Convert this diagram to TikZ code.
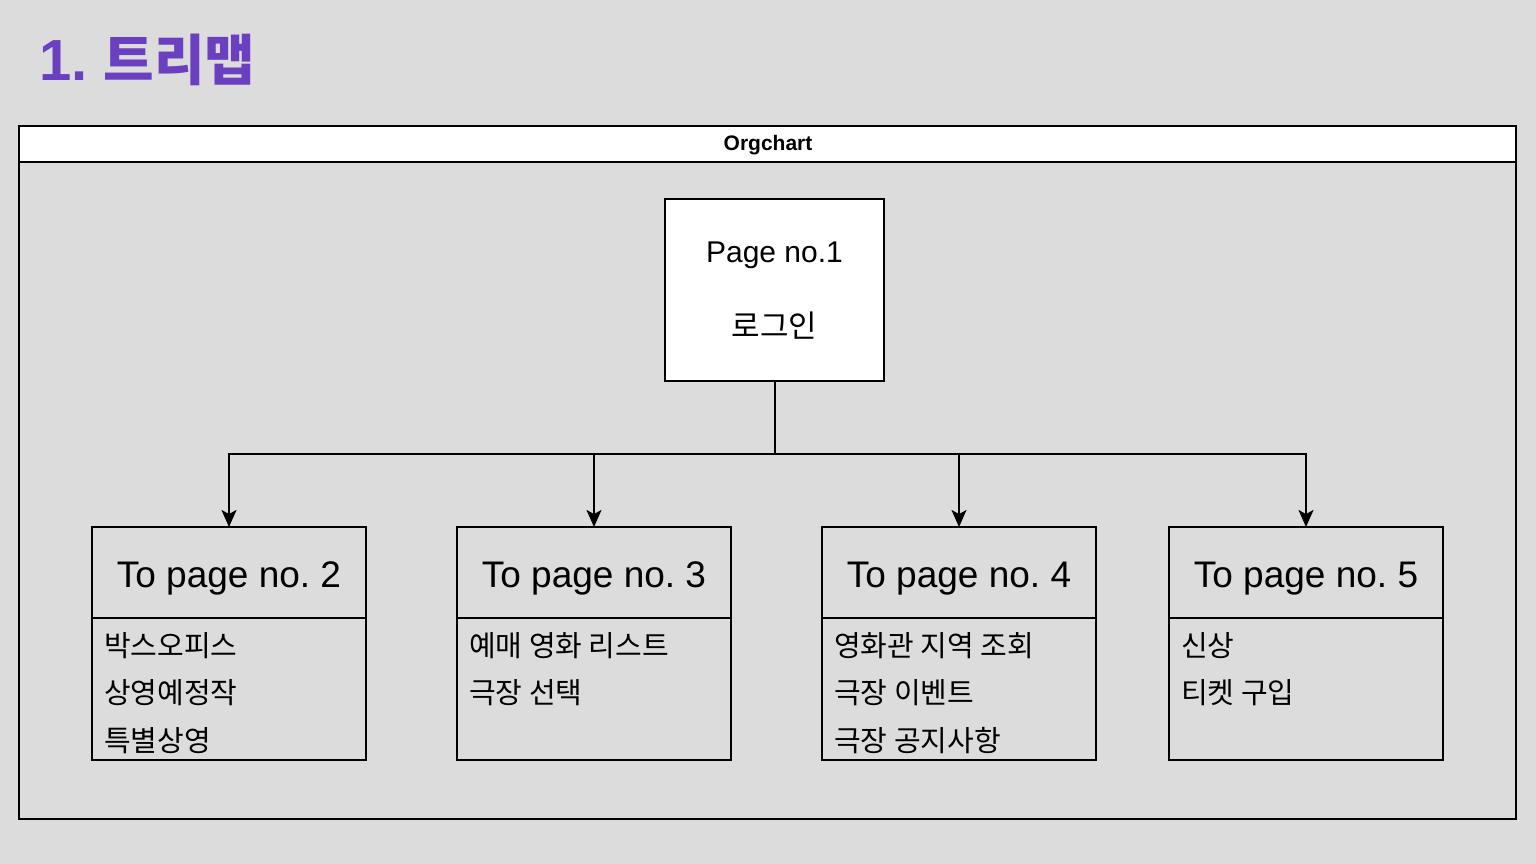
\documentclass[tikz,border=0pt]{standalone}
\usepackage{fontspec}
\setmainfont{Liberation Sans}
\newfontfamily\krfont{Noto Sans CJK KR}
\usetikzlibrary{positioning, arrows.meta}
\frenchspacing

\definecolor{bggray}{RGB}{220,220,220}
\definecolor{titlepurple}{RGB}{106,64,192}

\tikzset{
  pagebox/.style={draw, line width=2pt, minimum width=274pt, inner sep=0pt, outer sep=0pt},
  itemtext/.style={anchor=base west, inner sep=0pt, font=\krfont\fontsize{29}{31}\selectfont},
  link/.style={line width=2pt, -{Stealth[length=17pt, width=15pt, inset=4pt]}}
}

\begin{document}
\begin{tikzpicture}[x=1pt, y=-1pt]
    % Background and frame
    \fill[bggray] (0,0) rectangle (1536,864);
    \useasboundingbox (0,0) rectangle (1536,864);
    \node[anchor=base west, inner sep=0pt, text=titlepurple, font=\bfseries\fontsize{58}{60}\selectfont] (title) at (39,81) {1. {\krfont\fontsize{55}{60}\selectfont 트리맵}};
    \draw[line width=2pt] (19,126) rectangle (1516,819);
    \draw[line width=2pt, fill=white] (19,126) rectangle (1516,162);
    \node[anchor=base, font=\bfseries\fontsize{21}{23}\selectfont] (orgchart) at (768,150) {Orgchart};

    % Root page
    \node[draw, line width=2pt, fill=white, minimum width=219pt, minimum height=182pt, inner sep=0pt, outer sep=0pt] (root) at (774.5,290) {};
    \node[anchor=base, inner sep=0pt, font=\fontsize{30}{32}\selectfont] (rootname) at (774.5,262) {Page no.1};
    \node[anchor=base, inner sep=0pt, font=\krfont\fontsize{31}{33}\selectfont] (rootlabel) at (774.5,337) {로그인};
    \coordinate (hub) at (774.5,454);
    \draw[line width=2pt] (root.south) -- (hub);

    % Child pages
    \foreach \n/\x/\items in {2/229/{박스오피스,상영예정작,특별상영}, 3/594/{예매 영화 리스트,극장 선택}, 4/959/{영화관 지역 조회,극장 이벤트,극장 공지사항}, 5/1306/{신상,티켓 구입}} {
      \node[pagebox, minimum height=91pt, anchor=north] (p\n) at (\x,527) {};
      \node[pagebox, minimum height=142pt, anchor=north] (p\n b) at (p\n.south) {};
      \node[anchor=base, inner sep=0pt, font=\fontsize{37}{40}\selectfont] (p\n t) at (\x,587) {To page no. \n};
      \draw[link] (hub) -| (p\n.north);

      % Item lines
      \foreach \t [count=\k] in \items {
        \node[itemtext] (p\n i\k) at ([xshift=12pt, yshift=9.5pt-47.5pt*\k]p\n b.north west) {\t};
      }
    }

\end{tikzpicture}
\end{document}
